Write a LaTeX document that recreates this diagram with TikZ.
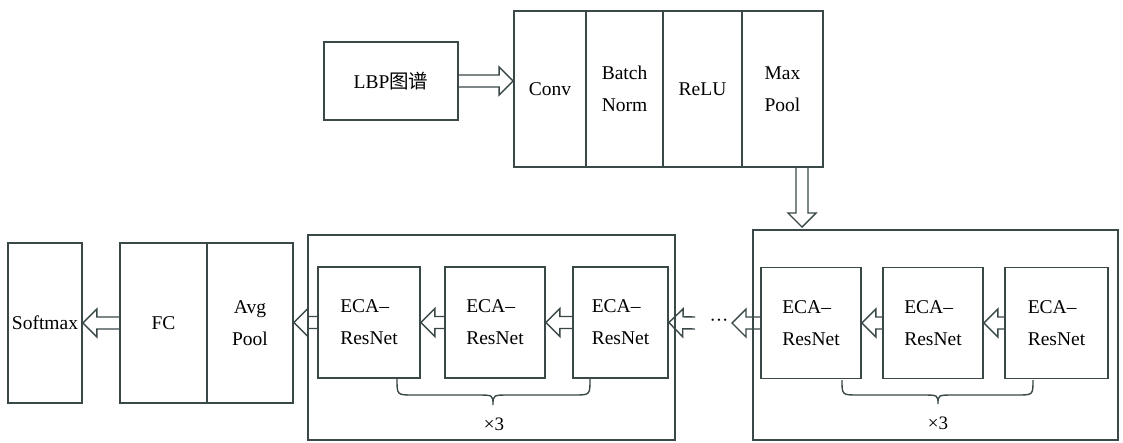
\documentclass[tikz,border=0pt]{standalone}
\usepackage{fontspec}
\setmainfont{Liberation Serif}
\newfontfamily\serifb{Liberation Serif}
\newfontfamily\cjk{Noto Sans CJK SC}
\usetikzlibrary{calc}
\definecolor{ln}{RGB}{58,72,72}
\tikzset{
  box/.style={draw=ln, line width=1.8pt, inner sep=0pt, align=center, font=\serifb\fontsize{19.5}{32}\selectfont},
  eca/.style={box, minimum height=111pt},
  harrow/.style={draw=ln, line width=1.4pt, line join=miter},
  brace/.style={draw=ln, line width=1.4pt},
  lbl/.style={font=\serifb\fontsize{19}{32}\selectfont, inner sep=0pt}
}
\newcommand\hollowarrow[2]{%
  \draw[harrow] let \p1=(#1), \p2=(#2),
    \n1={atan2(\y2-\y1,\x2-\x1)}, \n2={veclen(\x2-\x1,\y2-\y1)} in
    ($(\p1)+(\n1+90:6pt)$) --
    ($(\p1)+(\n1:{(\n2-14)*1pt})+(\n1+90:6pt)$) --
    ($(\p1)+(\n1:{(\n2-14)*1pt})+(\n1+90:14pt)$) --
    (\p2) --
    ($(\p1)+(\n1:{(\n2-14)*1pt})+(\n1-90:14pt)$) --
    ($(\p1)+(\n1:{(\n2-14)*1pt})+(\n1-90:6pt)$) --
    ($(\p1)+(\n1-90:6pt)$);}
\begin{document}
\begin{tikzpicture}[x=1pt,y=-1pt]
\useasboundingbox[fill=white] (0,0) rectangle (1123,442);
% top row
\node[box, minimum width=134pt, minimum height=78pt] (lbp) at (391,81) {LBP{\cjk 图谱}};
\node[box, minimum width=72pt, minimum height=156pt] (conv) at (550,89) {Conv};
\node[box, minimum width=77pt, minimum height=156pt] (bn) at (624.5,89) {Batch\\Norm};
\node[box, minimum width=79pt, minimum height=156pt] (relu) at (702.5,89) {ReLU};
\node[box, minimum width=81pt, minimum height=156pt] (mp) at (782.5,89) {Max\\Pool};
% right group
\node[box, minimum width=365pt, minimum height=210pt] (rbig) at (935.5,335) {};
\node[eca, minimum width=100pt, align=left] (r1) at (811,323) {ECA–\\ResNet};
\node[eca, minimum width=100pt, align=left] (r2) at (933,323) {ECA–\\ResNet};
\node[eca, minimum width=103pt, align=left] (r3) at (1056.5,323) {ECA–\\ResNet};
% left group
\node[box, minimum width=367pt, minimum height=205pt] (lbig) at (491.5,337.5) {};
\node[eca, minimum width=102pt, align=left] (l1) at (369,322.5) {ECA–\\ResNet};
\node[eca, minimum width=100pt, align=left] (l2) at (495,322.5) {ECA–\\ResNet};
\node[eca, minimum width=95pt, align=left] (l3) at (620.5,322.5) {ECA–\\ResNet};
% head
\node[box, minimum width=87pt, minimum height=160pt] (fc) at (163.5,323) {FC};
\node[box, minimum width=86pt, minimum height=160pt] (avg) at (250,323) {Avg\\Pool};
\node[box, minimum width=74pt, minimum height=160pt] (soft) at (45,323) {Softmax};
% dots
\node[lbl] (dots) at (719,323) {···};
\coordinate (dl) at (695,323);
\coordinate (dr) at (732,323);
\coordinate (d1) at (802,167);
\coordinate (d2) at (802,227);
% arrows
\hollowarrow{lbp.east}{lbp.east -| conv.west}
\hollowarrow{d1}{d2}
\hollowarrow{r3.west}{r2.east}
\hollowarrow{r2.west}{r1.east}
\hollowarrow{r1.west}{dr}
\hollowarrow{dl}{l3.east}
\hollowarrow{l3.west}{l2.east}
\hollowarrow{l2.west}{l1.east}
\hollowarrow{l1.west}{l1.west -| avg.east}
\hollowarrow{fc.west}{fc.west -| soft.east}
% braces
\draw[brace] (397,379) .. controls (397,395) .. (413,395) -- (477,395)
  .. controls (493,395) .. (493,405) .. controls (493,395) .. (509,395)
  -- (574,395) .. controls (590,395) .. (590,379);
\draw[brace] (842,380) .. controls (842,395) .. (858,395) -- (922,395)
  .. controls (938,395) .. (938,404) .. controls (938,395) .. (954,395)
  -- (1017,395) .. controls (1033,395) .. (1033,380);
\node[lbl] (x3l) at (494,424) {×3};
\node[lbl] (x3r) at (938,423) {×3};
\end{tikzpicture}
\end{document}
